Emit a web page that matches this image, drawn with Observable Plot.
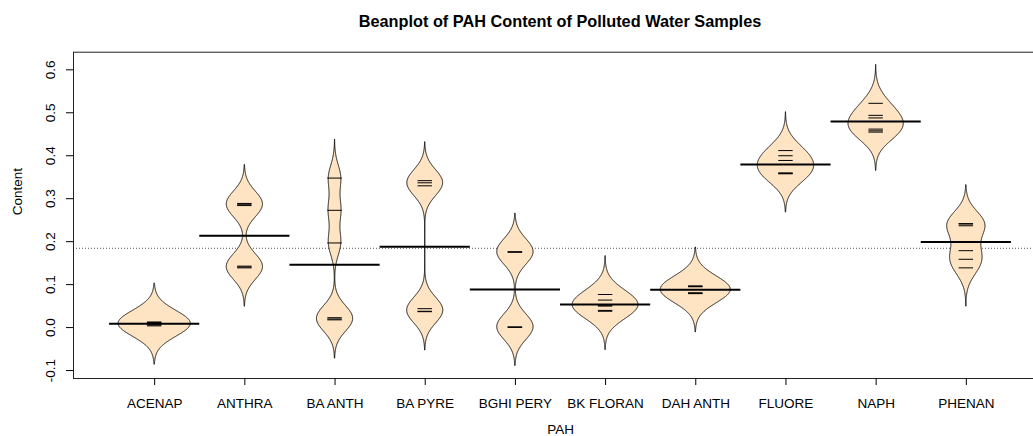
<!DOCTYPE html>
<html>
<head>
<meta charset="utf-8">
<script src="https://cdn.jsdelivr.net/npm/d3@7"></script>
<script src="https://cdn.jsdelivr.net/npm/@observablehq/plot@0.6"></script>
<style>
  html, body { margin: 0; padding: 0; background: white; overflow: hidden; }
  #wrap { width: 1033px; height: 436px; position: relative; }
  #title { font: bold 16.3px "Liberation Sans", Arial, sans-serif; height: 40px; line-height: 42px;
           padding-left: 87px; width: 946px; text-align: center; color: black; }
</style>
</head>
<body>
<div id="wrap">
  <div id="title">Beanplot of PAH Content of Polluted Water Samples</div>
  <div id="chart"></div>
</div>
<script>
// ---- data ----
const categories = ["ACENAP", "ANTHRA", "BA ANTH", "BA PYRE", "BGHI PERY", "BK FLORAN", "DAH ANTH", "FLUORE", "NAPH", "PHENAN"];
const acenap   = [0.004, 0.006, 0.008, 0.010, 0.012, 0.013];
const anthra   = [0.289, 0.287, 0.284, 0.143, 0.141, 0.139];
const baAnth   = [0.348, 0.273, 0.197, 0.023, 0.020, 0.018];
const baPyre   = [0.342, 0.337, 0.330, 0.044, 0.038, 0.037];
const bghiPery = [0.176, 0.176, 0.176, 0.001, 0.001, 0.001];
const bkFloran = [0.077, 0.064, 0.052, 0.050, 0.040, 0.038];
const dahAnth  = [0.097, 0.096, 0.095, 0.081, 0.080, 0.079];
const fluore   = [0.412, 0.400, 0.389, 0.360, 0.359, 0.358];
const naph     = [0.522, 0.494, 0.488, 0.462, 0.458, 0.455];
const phenan   = [0.242, 0.241, 0.237, 0.179, 0.159, 0.139];
const yTicks   = [-0.1, 0.0, 0.1, 0.2, 0.3, 0.4, 0.5, 0.6];

const groups = [acenap, anthra, baAnth, baPyre, bghiPery, bkFloran, dahAnth, fluore, naph, phenan];

// ---- kernel density beans (Gaussian, common bandwidth, cut = 3) ----
const bw = 0.0298, cut = 3, nGrid = 512, maxwidth = 0.8;
const gauss = u => Math.exp(-0.5 * u * u) / Math.sqrt(2 * Math.PI);
const dens = groups.map(vals => {
  const lo = d3.min(vals) - cut * bw, hi = d3.max(vals) + cut * bw;
  return d3.range(nGrid).map(k => {
    const y = lo + (hi - lo) * k / (nGrid - 1);
    const d = d3.mean(vals, v => gauss((y - v) / bw)) / bw;
    return {y, d};
  });
});
const maxD = d3.max(dens, g => d3.max(g, p => p.d));
const beanRows = dens.flatMap((g, i) => g.map(p => ({
  group: categories[i], y: p.y,
  x1: i + 1 - p.d / maxD * maxwidth / 2,
  x2: i + 1 + p.d / maxD * maxwidth / 2
})));
const obsRows = groups.flatMap((vals, i) => vals.map(v => ({pos: i + 1, v})));
const meanRows = groups.map((vals, i) => ({pos: i + 1, m: d3.mean(vals)}));
const overallMean = d3.mean(groups.flat());
const positions = categories.map((c, i) => i + 1);

const chart = Plot.plot({
  width: 1033,
  height: 396,
  marginLeft: 73,
  marginRight: -14,
  marginTop: 11.7,
  marginBottom: 58,
  style: {fontFamily: '"Liberation Sans", Arial, sans-serif', fontSize: "13.5px", overflow: "hidden", background: "white", color: "black"},
  x: {type: "linear", domain: [0.1, 10.9]},
  y: {domain: [-0.1185, 0.641]},
  marks: [
    Plot.ruleY([overallMean], {stroke: "#555", strokeWidth: 1, strokeDasharray: "1,2"}),
    Plot.areaX(beanRows, {y: "y", x1: "x1", x2: "x2", z: "group", fill: "#FFE4C4", stroke: "black", strokeWidth: 0.9}),
    Plot.ruleY(obsRows, {y: "v", x1: d => d.pos - 0.08, x2: d => d.pos + 0.08, stroke: "black", strokeWidth: 1}),
    Plot.ruleY(meanRows, {y: "m", x1: d => d.pos - 0.5, x2: d => d.pos + 0.5, stroke: "black", strokeWidth: 2}),
    Plot.frame({stroke: "#222", strokeWidth: 1}),
    Plot.axisY({ticks: yTicks, tickFormat: d => d.toFixed(1), tickSize: 7, tickPadding: 12, tickRotate: -90, label: null}),
    Plot.axisX({ticks: positions, tickFormat: d => categories[d - 1], tickSize: 7, tickPadding: 13, label: null}),
    Plot.text(["PAH"], {text: d => d, frameAnchor: "bottom", dy: 51, lineAnchor: "middle"}),
    Plot.text(["Content"], {text: d => d, frameAnchor: "left", dx: -56, rotate: -90, lineAnchor: "middle"})
  ]
});
document.getElementById("chart").appendChild(chart);
</script>
</body>
</html>
